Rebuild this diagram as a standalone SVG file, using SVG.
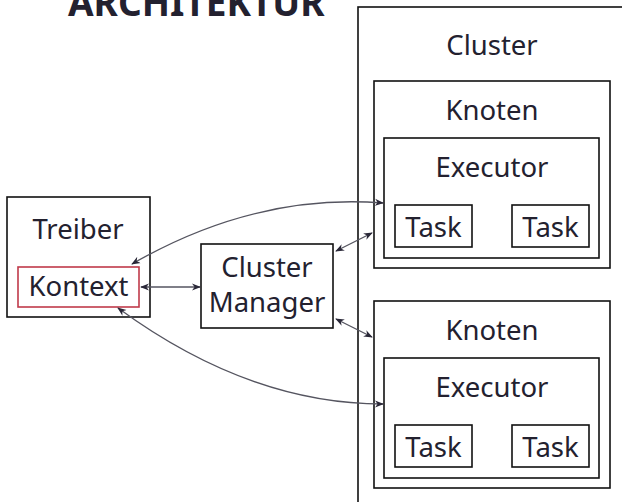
<svg xmlns="http://www.w3.org/2000/svg" width="622" height="502" viewBox="0 0 622 502">
<style>
.box{fill:#fff;stroke:#111;stroke-width:1.6}
.ctx{fill:#fff;stroke:#c03a4a;stroke-width:1.6}
.t{font-family:"Noto Sans","Open Sans",sans-serif;font-size:27.5px;fill:#23212f;text-anchor:middle}
.title{font-family:"Noto Sans","Open Sans",sans-serif;font-size:37px;font-weight:bold;fill:#23212f}
.c{fill:none;stroke:#555560;stroke-width:1.3;marker-start:url(#ah);marker-end:url(#ah)}
</style>
<defs>
<marker id="ah" viewBox="0 0 10 10" refX="9" refY="5" markerWidth="9" markerHeight="9" markerUnits="userSpaceOnUse" orient="auto-start-reverse">
<path d="M0,1 L10,5 L0,9 L3,5 z" fill="#2a2838"/>
</marker>
</defs>
<rect width="622" height="502" fill="#fff"/>
<text class="title" x="68" y="16">ARCHITEKTUR</text>
<g id="cluster">
<rect class="box" x="358" y="7" width="280" height="510"/>
<text class="t" x="492" y="55">Cluster</text>
</g>
<g id="knoten1">
<rect class="box" x="374" y="81" width="236" height="187"/>
<text class="t" x="492" y="120">Knoten</text>
</g>
<g id="executor1">
<rect class="box" x="384" y="138" width="215" height="120"/>
<text class="t" x="492" y="177">Executor</text>
</g>
<g id="task1a">
<rect class="box" x="395" y="205" width="77" height="42"/>
<text class="t" x="433.5" y="237">Task</text>
</g>
<g id="task1b">
<rect class="box" x="512" y="205" width="77" height="42"/>
<text class="t" x="550.5" y="237">Task</text>
</g>
<g id="knoten2">
<rect class="box" x="374" y="301" width="236" height="187"/>
<text class="t" x="492" y="340">Knoten</text>
</g>
<g id="executor2">
<rect class="box" x="384" y="358" width="215" height="120"/>
<text class="t" x="492" y="397">Executor</text>
</g>
<g id="task2a">
<rect class="box" x="395" y="425" width="77" height="42"/>
<text class="t" x="433.5" y="457">Task</text>
</g>
<g id="task2b">
<rect class="box" x="512" y="425" width="77" height="42"/>
<text class="t" x="550.5" y="457">Task</text>
</g>
<g id="treiber">
<rect class="box" x="7" y="197" width="143" height="120"/>
<text class="t" x="78" y="239">Treiber</text>
</g>
<g id="kontext">
<rect class="ctx" x="18" y="267" width="121" height="40"/>
<text class="t" x="78.5" y="296">Kontext</text>
</g>
<g id="clustermanager">
<rect class="box" x="201" y="244" width="132" height="84"/>
<text class="t" x="267" y="277">Cluster</text>
<text class="t" x="267" y="312">Manager</text>
</g>
<g id="connectors">
<path class="c" d="M132,264 Q255,193 383,203"/>
<path class="c" d="M141,287 L200,287"/>
<path class="c" d="M336,251 L372,233"/>
<path class="c" d="M336,319 L372,337"/>
<path class="c" d="M118,308 Q249,404 383,404"/>
</g>
</svg>
